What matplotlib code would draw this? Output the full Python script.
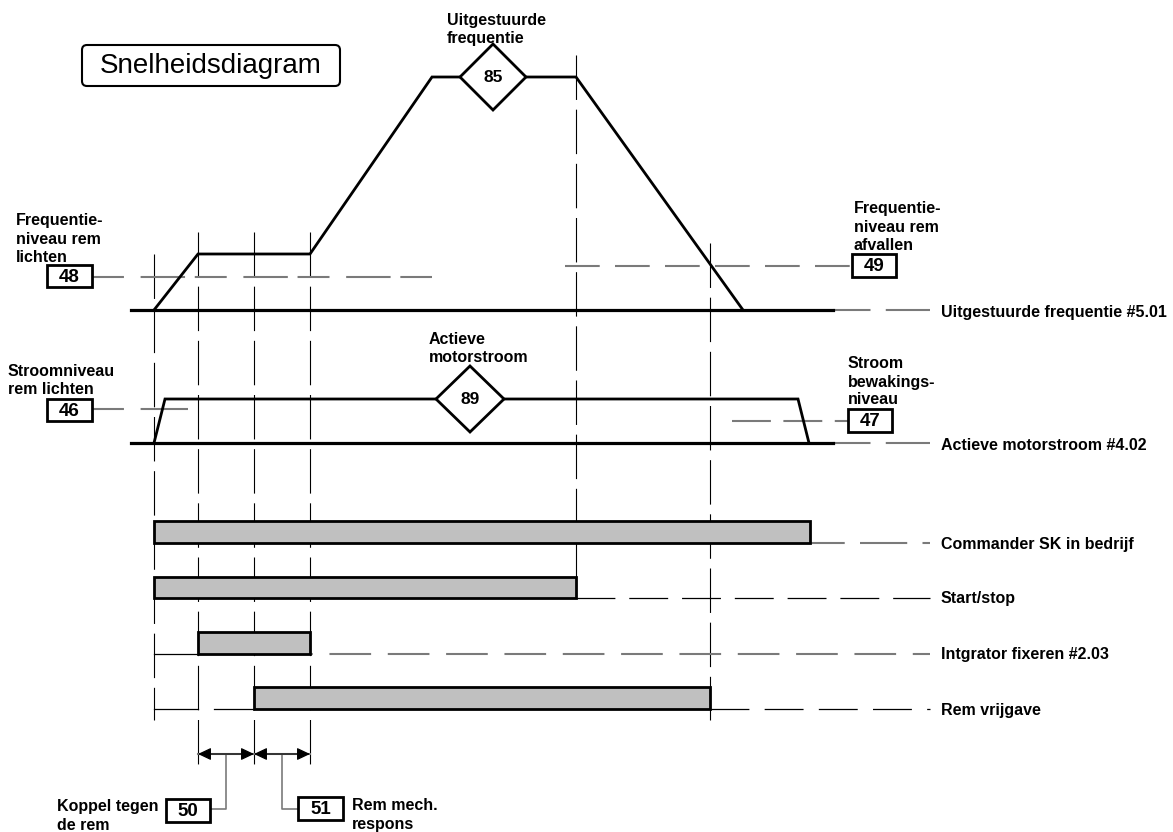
import matplotlib.pyplot as plt
from matplotlib.patches import Rectangle, Polygon, FancyBboxPatch, FancyArrowPatch

plt.rcParams['font.family'] = ['Liberation Sans', 'DejaVu Sans']
plt.rcParams['lines.scale_dashes'] = False

# time events (x) of the diagram, in canvas units
t_events = [154, 198, 254, 310, 576, 710]

# output frequency trace
freq_x = [154, 198, 310, 432, 576, 743]
freq_y = [310, 254, 254, 77, 77, 310]
freq_base = 310

# active motor current trace
cur_x = [154, 165, 798, 809]
cur_y = [443, 399, 399, 443]
cur_base = 443

# digital signals: (start, end, top, bottom)
bar_names = ["Commander SK in bedrijf", "Start/stop", "Intgrator fixeren #2.03", "Rem vrijgave"]
bar_start = [154, 154, 198, 254]
bar_end = [810, 576, 310, 710]
bar_top = [521, 577, 632, 687]
bar_bot = [543, 598, 654, 709]

BLACK = "#000000"
GREY = "#7a7a7a"
DASH = (0, (32, 7))

fig = plt.figure(figsize=(11.73, 8.32), dpi=100)
ax = fig.add_axes([0, 0, 1, 1])
ax.set_xlim(0, 1173)
ax.set_ylim(832, 0)
ax.axis("off")

# vertical event guides
v_top = [254, 232, 232, 232, 55, 243]
v_bot = [720, 765, 765, 765, 598, 720]
for x, y0, y1 in zip(t_events, v_top, v_bot):
    ax.plot([x, x], [y0, y1], color=BLACK, lw=0.8, ls=DASH, zorder=1)

# frequency
ax.plot([131, 833], [freq_base, freq_base], color=BLACK, lw=2.3, zorder=3)
ax.plot(freq_x, freq_y, color=BLACK, lw=2.0, zorder=3, solid_joinstyle="miter")
ax.plot([833, 930], [freq_base, freq_base], color=GREY, lw=1.5, ls=(0, (27, 11, 40, 7)), zorder=2)

# current
ax.plot([131, 833], [cur_base, cur_base], color=BLACK, lw=2.3, zorder=3)
ax.plot(cur_x, cur_y, color=BLACK, lw=2.0, zorder=3, solid_joinstyle="miter")
ax.plot([833, 930], [cur_base, cur_base], color=GREY, lw=1.5, ls=(0, (27, 11, 40, 7)), zorder=2)

# threshold levels (grey dashed)
ax.plot([92, 432], [277, 277], color=GREY, lw=1.5, ls=(0, (23, 12, 32, 7)), zorder=2)
ax.plot([565, 852], [266, 266], color=GREY, lw=1.5, ls=(0, (25, 11)), zorder=2)
ax.plot([92, 188], [409, 409], color=GREY, lw=1.5, ls=(0, (23, 12, 40, 7)), zorder=2)
ax.plot([732, 848], [421, 421], color=GREY, lw=1.5, ls=(0, (28, 9)), zorder=2)

# bars
for s, e, top, bot in zip(bar_start, bar_end, bar_top, bar_bot):
    ax.add_patch(Rectangle((s, top), e - s, bot - top, facecolor="#c0c0c0",
                           edgecolor=BLACK, lw=2.0, zorder=4))

# bar base lines
ax.plot([810, 930], [543, 543], color=GREY, lw=1.5, ls=(0, (25, 11, 34, 11)), zorder=2)
ax.plot([576, 930], [598, 598], color=BLACK, lw=0.9, ls=(0, (28, 10)), zorder=2)
ax.plot([154, 198], [654, 654], color=BLACK, lw=0.9, zorder=2)
ax.plot([310, 930], [654, 654], color=GREY, lw=1.5, ls=(28, (30, 12)), zorder=2)
ax.plot([154, 198], [709, 709], color=BLACK, lw=0.9, zorder=2)
ax.plot([214, 254], [709, 709], color=BLACK, lw=0.9, zorder=2)
ax.plot([710, 930], [709, 709], color=BLACK, lw=0.9, ls=(0, (28, 11)), zorder=2)

# diamonds
def diamond(cx, cy, hw, hh, label):
    ax.add_patch(Polygon([(cx - hw, cy), (cx, cy - hh), (cx + hw, cy), (cx, cy + hh)],
                         closed=True, facecolor="white", edgecolor=BLACK, lw=2.0, zorder=5))
    ax.text(cx, cy + 1, label, ha="center", va="center", fontsize=12.5,
            fontweight="bold", zorder=6)

diamond(493, 77, 33, 33, "85")
diamond(470, 399, 34, 33, "89")

# parameter boxes
def pbox(x0, y0, x1, y1, label):
    ax.add_patch(Rectangle((x0, y0), x1 - x0, y1 - y0, facecolor="white",
                           edgecolor=BLACK, lw=2.0, zorder=5))
    ax.text((x0 + x1) / 2, (y0 + y1) / 2 + 1, label, ha="center", va="center",
            fontsize=13.5, fontweight="bold", zorder=6)

pbox(47, 265, 92, 287, "48")
pbox(47, 399, 92, 421, "46")
pbox(852, 254, 896, 277, "49")
pbox(848, 409, 892, 432, "47")
pbox(166, 799, 210, 822, "50")
pbox(298, 797, 343, 820, "51")

# timing arrows
for a, b in [(198, 254), (254, 310)]:
    ax.plot([a, b], [754, 754], color=GREY, lw=1.5, zorder=2)
    ax.add_patch(FancyArrowPatch((a, 754), (b, 754),
                                 arrowstyle="<|-|>,head_length=8,head_width=3.8",
                                 color=BLACK, lw=0.8, mutation_scale=1,
                                 shrinkA=0, shrinkB=0, zorder=3))
ax.plot([226, 226, 210], [754, 809, 809], color=GREY, lw=1.2, zorder=2)
ax.plot([282, 282, 298], [754, 809, 809], color=GREY, lw=1.2, zorder=2)

# title
ax.add_patch(FancyBboxPatch((82, 45), 258, 41, boxstyle="round,pad=0,rounding_size=5",
                            facecolor="white", edgecolor=BLACK, lw=1.5, zorder=5))
ax.text(211, 66, "Snelheidsdiagram", ha="center", va="center", fontsize=20, zorder=6)

# labels
lab = dict(fontsize=11.5, fontweight="bold", ha="left", va="center", linespacing=1.25, zorder=6)
ax.text(447, 30, "Uitgestuurde\nfrequentie", **lab)
ax.text(16, 239, "Frequentie-\nniveau rem\nlichten", **lab)
ax.text(854, 227, "Frequentie-\nniveau rem\nafvallen", **lab)
ax.text(941, 312, "Uitgestuurde frequentie #5.01", **lab)
ax.text(429, 349, "Actieve\nmotorstroom", **lab)
ax.text(8, 381, "Stroomniveau\nrem lichten", **lab)
ax.text(848, 382, "Stroom\nbewakings-\nniveau", **lab)
ax.text(941, 446, "Actieve motorstroom #4.02", **lab)
for name, bot in zip(bar_names, bar_bot):
    ax.text(941, bot + 1, name, **lab)
ax.text(57, 816, "Koppel tegen\nde rem", **lab)
ax.text(352, 815, "Rem mech.\nrespons", **lab)

fig.savefig("out.png", dpi=100)
